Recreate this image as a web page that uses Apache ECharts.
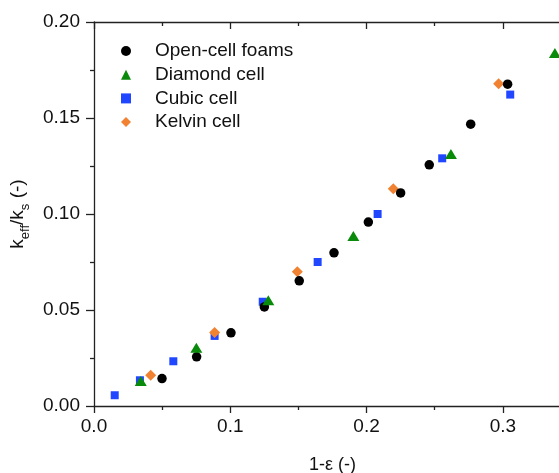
<!DOCTYPE html>
<html>
<head>
<meta charset="utf-8">
<script src="https://cdn.jsdelivr.net/npm/echarts@6.0.0/dist/echarts.min.js"></script>
<style>
html,body{margin:0;padding:0;background:#ffffff;}
#chart{width:559px;height:473px;}
</style>
</head>
<body>
<div id="chart"></div>
<script>
const seriesNames = ['Open-cell foams', 'Diamond cell', 'Cubic cell', 'Kelvin cell'];

const openX = [0.0499, 0.0753, 0.1005, 0.1250, 0.1506, 0.1761, 0.2013, 0.2250, 0.2460, 0.2764, 0.3035];
const openY = [0.0143, 0.0256, 0.0381, 0.0516, 0.0652, 0.0798, 0.0958, 0.1110, 0.1256, 0.1468, 0.1676];

const diamondX = [0.0343, 0.0751, 0.1279, 0.1903, 0.2619, 0.3382];
const diamondY = [0.0130, 0.0303, 0.0551, 0.0885, 0.1313, 0.1838];

const cubicX = [0.0152, 0.0337, 0.0582, 0.0885, 0.1238, 0.1641, 0.2081, 0.2555, 0.3054];
const cubicY = [0.0056, 0.0134, 0.0233, 0.0365, 0.0543, 0.0750, 0.1000, 0.1290, 0.1622];

const kelvinX = [0.0416, 0.0885, 0.1492, 0.2196, 0.2969];
const kelvinY = [0.0160, 0.0383, 0.0699, 0.1132, 0.1678];

const xTicks = { min: 0, max: 0.35, interval: 0.1 };
const yTicks = { min: 0, max: 0.20, interval: 0.05 };

const FONT = 'Liberation Sans, Arial, Helvetica, sans-serif';
const AXIS_COLOR = '#222';

function pairs(xs, ys) { return xs.map((x, i) => [x, ys[i]]); }

const chart = echarts.init(document.getElementById('chart'), null, { renderer: 'canvas' });

const option = {
  backgroundColor: '#ffffff',
  animation: false,
  grid: { left: 94, top: 22, width: 477, height: 384, containLabel: false, outerBoundsMode: 'none' },
  legend: {
    orient: 'vertical',
    left: 121,
    top: 41.5,
    padding: 0,
    itemWidth: 10,
    itemHeight: 10,
    itemGap: 4.7,
    selectedMode: false,
    formatter: '{t|{name}}',
    textStyle: {
      rich: {
        t: { fontFamily: FONT, fontSize: 19, color: '#111', lineHeight: 20, padding: [0, 0, 0, 19] }
      }
    },
    data: seriesNames
  },
  xAxis: [
    {
      type: 'value',
      position: 'bottom',
      min: xTicks.min, max: xTicks.max, interval: xTicks.interval,
      name: '1-ε (-)',
      nameLocation: 'middle',
      nameGap: 50,
      nameTextStyle: { fontFamily: FONT, fontSize: 18, color: '#111' },
      axisLine: { show: true, onZero: false, lineStyle: { color: AXIS_COLOR, width: 1.3 } },
      axisTick: { show: true, inside: false, length: 7, lineStyle: { color: AXIS_COLOR, width: 1.3 } },
      minorTick: { show: true, splitNumber: 2, length: 4, lineStyle: { color: AXIS_COLOR, width: 1.3 } },
      axisLabel: { fontFamily: FONT, fontSize: 19, color: '#111', margin: 11, showMaxLabel: false,
        formatter: v => v.toFixed(1) },
      splitLine: { show: false }
    },
    {
      type: 'value',
      position: 'top',
      min: xTicks.min, max: xTicks.max, interval: xTicks.interval,
      axisLine: { show: true, onZero: false, lineStyle: { color: AXIS_COLOR, width: 1.3 } },
      axisTick: { show: true, inside: true, length: 7, lineStyle: { color: AXIS_COLOR, width: 1.3 } },
      minorTick: { show: true, splitNumber: 2, length: 4, lineStyle: { color: AXIS_COLOR, width: 1.3 } },
      axisLabel: { show: false },
      splitLine: { show: false }
    }
  ],
  yAxis: {
    type: 'value',
    min: yTicks.min, max: yTicks.max, interval: yTicks.interval,
    name: '{k|k}{s|eff}{k|/k}{s|s}{k| (-)}',
    nameLocation: 'middle',
    nameGap: 60,
    nameTextStyle: {
      rich: {
        k: { fontFamily: FONT, fontSize: 19, color: '#111', lineHeight: 24 },
        s: { fontFamily: FONT, fontSize: 13, color: '#111', padding: [15, 0, 0, 0] }
      }
    },
    axisLine: { show: true, onZero: false, lineStyle: { color: AXIS_COLOR, width: 1.3 } },
    axisTick: { show: true, inside: false, length: 8, lineStyle: { color: AXIS_COLOR, width: 1.3 } },
    minorTick: { show: true, splitNumber: 2, length: 4, lineStyle: { color: AXIS_COLOR, width: 1.3 } },
    axisLabel: { fontFamily: FONT, fontSize: 19, color: '#111', margin: 14,
      formatter: v => v.toFixed(2) },
    splitLine: { show: false }
  },
  series: [
    {
      name: seriesNames[2], type: 'scatter', xAxisIndex: 0, symbol: 'rect', symbolSize: 8,
      itemStyle: { color: '#2146ff', opacity: 1 }, data: pairs(cubicX, cubicY), z: 2
    },
    {
      name: seriesNames[3], type: 'scatter', xAxisIndex: 0, symbol: 'diamond', symbolSize: 11,
      itemStyle: { color: '#f08232', opacity: 1 }, data: pairs(kelvinX, kelvinY), z: 3
    },
    {
      name: seriesNames[0], type: 'scatter', xAxisIndex: 0, symbol: 'circle', symbolSize: 9.5,
      itemStyle: { color: '#000000', opacity: 1 }, data: pairs(openX, openY), z: 4
    },
    {
      name: seriesNames[1], type: 'scatter', xAxisIndex: 0, symbol: 'triangle', symbolSize: [12, 10],
      itemStyle: { color: '#0a8a0a', opacity: 1 }, data: pairs(diamondX, diamondY), z: 5
    }
  ]
};

chart.setOption(option);
</script>
</body>
</html>
